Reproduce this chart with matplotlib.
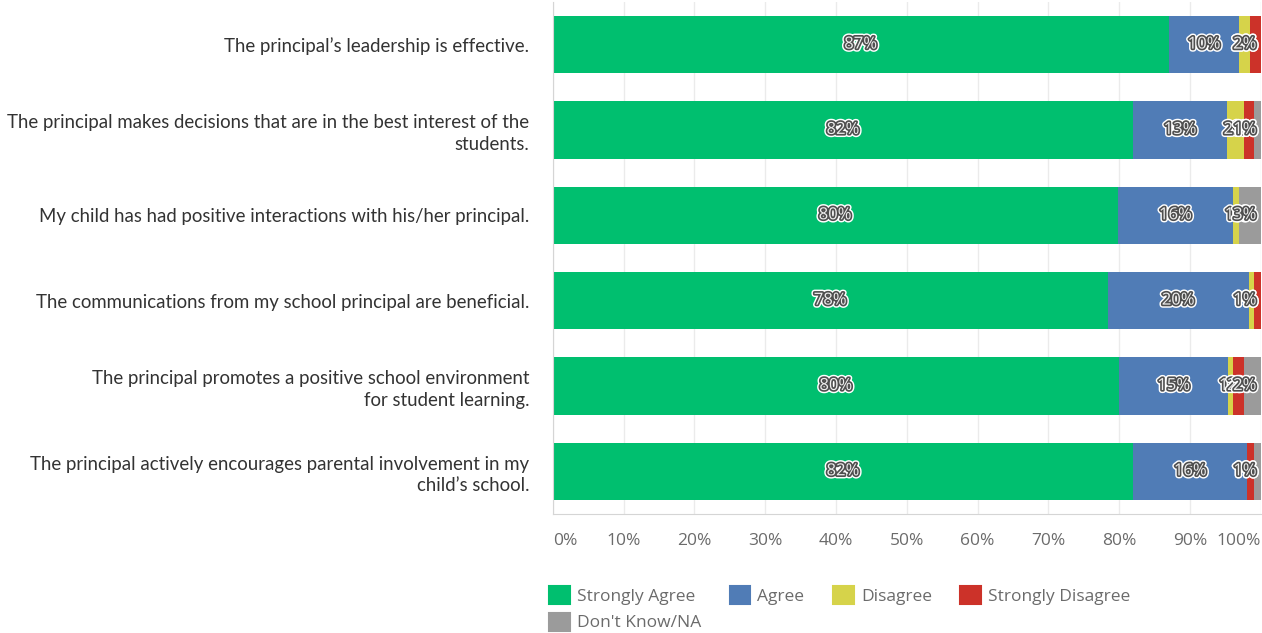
import matplotlib
matplotlib.use("Agg")
import matplotlib.pyplot as plt
import matplotlib.patches as mpatches
import matplotlib.patheffects as pe

# survey statements (top to bottom)
questions = [
    "The principal\u2019s leadership is effective.",
    "The principal makes decisions that are in the best interest of the\nstudents.",
    "My child has had positive interactions with his/her principal.",
    "The communications from my school principal are beneficial.",
    "The principal promotes a positive school environment\nfor student learning.",
    "The principal actively encourages parental involvement in my\nchild\u2019s school.",
]

# percentages
strongly_agree = [87.0, 82.0, 79.8, 78.4, 80.0, 82.0]
agree = [10.0, 13.2, 16.3, 19.9, 15.4, 16.1]
disagree = [1.5, 2.4, 0.9, 0.8, 0.7, 0.0]
strongly_disagree = [1.5, 1.4, 0.0, 0.9, 1.6, 0.9]
dont_know = [0.0, 1.0, 3.0, 0.0, 2.3, 1.0]

series_names = ["Strongly Agree", "Agree", "Disagree", "Strongly Disagree", "Don't Know/NA"]
series_values = [strongly_agree, agree, disagree, strongly_disagree, dont_know]
colors = ["#00bf6f", "#507cb6", "#d6d34a", "#cc3229", "#9b9b9b"]

xticks = list(range(0, 101, 10))
xtick_labels = [f"{t}%" for t in xticks]

fig = plt.figure(figsize=(12.62, 6.33), dpi=100)
ax = fig.add_axes([0.438, 0.188, 0.561, 0.809])

label_fx = [pe.withStroke(linewidth=4.5, foreground="white"),
            pe.withStroke(linewidth=2.4, foreground="#4f4f4f")]

ypos = list(range(len(questions)))
left = [0.0] * len(questions)
for name, vals, col in zip(series_names, series_values, colors):
    ax.barh(ypos, vals, left=left, height=0.67, color=col, label=name, zorder=2)
    for i, v in enumerate(vals):
        if v <= 0:
            continue
        center = left[i] + v / 2
        txt = f"{round(v):.0f}%"
        half_w = 1.05 * len(txt)
        if center + half_w > 99.4:
            x, ha = 99.4, "right"
        else:
            x, ha = center, "center"
        ax.text(x, i, txt, ha=ha, va="center", fontsize=12, color="#eeeeee",
                family="Open Sans", zorder=3, path_effects=label_fx)
    left = [l + v for l, v in zip(left, vals)]

ax.set_xlim(0, 100)
ax.set_ylim(len(questions) - 0.5, -0.5)
ax.set_yticks(ypos)
ax.set_yticklabels(questions, fontsize=13.4, color="#333333", family="Lato",
                   ha="right", linespacing=1.3)
ax.set_xticks(xticks)
ax.set_xticklabels(xtick_labels, fontsize=12.5, color="#6b6b6b", family="Open Sans")
xl = ax.get_xticklabels()
xl[0].set_ha("left")
xl[-1].set_ha("right")
ax.tick_params(axis="x", length=0, pad=14)
ax.tick_params(axis="y", length=0, pad=17)

ax.grid(axis="x", color="#ebebeb", linewidth=1, zorder=0)
ax.set_axisbelow(True)
for s in ["top", "right"]:
    ax.spines[s].set_visible(False)
for s in ["left", "bottom"]:
    ax.spines[s].set_color("#d5d5d5")

handles = [mpatches.Patch(facecolor=c, edgecolor=c, linewidth=1.5, joinstyle="round", label=n)
           for n, c in zip(series_names, colors)]
order = [0, 4, 1, 2, 3]
leg = fig.legend([handles[k] for k in order], [series_names[k] for k in order],
                 loc="upper left", bbox_to_anchor=(0.435, 0.074), ncol=4, frameon=False,
                 handlelength=1.2, handleheight=1.2, handletextpad=0.4,
                 columnspacing=1.65, labelspacing=0.45, borderaxespad=0, borderpad=0,
                 prop={"family": "Open Sans", "size": 12.5})
for t in leg.get_texts():
    t.set_color("#6b6b6b")

fig.savefig("out.png", dpi=100)
